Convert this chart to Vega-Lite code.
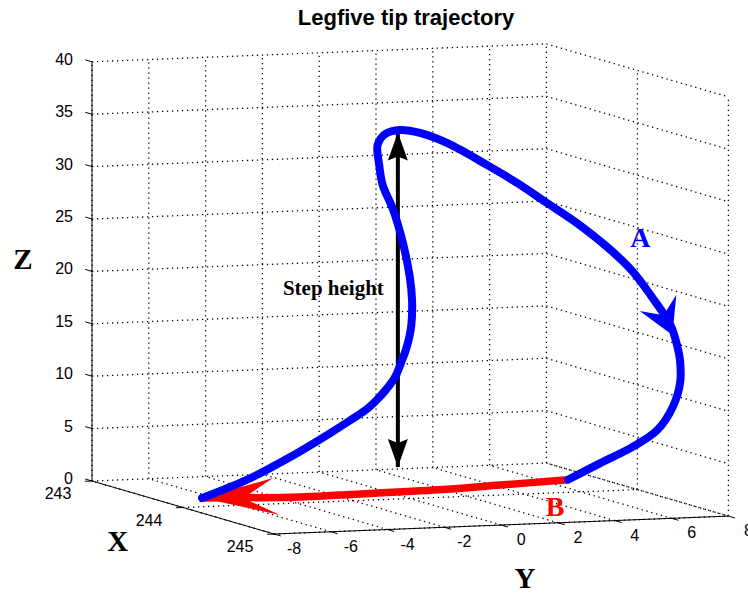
{
  "$schema": "https://vega.github.io/schema/vega-lite/v6.json",
  "width": 748,
  "height": 554,
  "autosize": {"type": "none"},
  "padding": {"left": 0, "right": 0, "top": 40, "bottom": 0},
  "background": "white",
  "title": {
    "text": "Legfive tip trajectory",
    "font": "Liberation Sans",
    "fontSize": 22,
    "fontWeight": "bold",
    "color": "black",
    "anchor": "middle",
    "dx": 32,
    "offset": 10
  },
  "config": {"view": {"stroke": null}},
  "data": {
    "values": [
      {"kind": "grid", "X": 243, "Y": -8, "Z": 0, "X2": 243, "Y2": 8, "Z2": 0},
      {"kind": "grid", "X": 243, "Y": 8, "Z": 0, "X2": 245, "Y2": 8, "Z2": 0},
      {"kind": "grid", "X": 243, "Y": -8, "Z": 5, "X2": 243, "Y2": 8, "Z2": 5},
      {"kind": "grid", "X": 243, "Y": 8, "Z": 5, "X2": 245, "Y2": 8, "Z2": 5},
      {"kind": "grid", "X": 243, "Y": -8, "Z": 10, "X2": 243, "Y2": 8, "Z2": 10},
      {"kind": "grid", "X": 243, "Y": 8, "Z": 10, "X2": 245, "Y2": 8, "Z2": 10},
      {"kind": "grid", "X": 243, "Y": -8, "Z": 15, "X2": 243, "Y2": 8, "Z2": 15},
      {"kind": "grid", "X": 243, "Y": 8, "Z": 15, "X2": 245, "Y2": 8, "Z2": 15},
      {"kind": "grid", "X": 243, "Y": -8, "Z": 20, "X2": 243, "Y2": 8, "Z2": 20},
      {"kind": "grid", "X": 243, "Y": 8, "Z": 20, "X2": 245, "Y2": 8, "Z2": 20},
      {"kind": "grid", "X": 243, "Y": -8, "Z": 25, "X2": 243, "Y2": 8, "Z2": 25},
      {"kind": "grid", "X": 243, "Y": 8, "Z": 25, "X2": 245, "Y2": 8, "Z2": 25},
      {"kind": "grid", "X": 243, "Y": -8, "Z": 30, "X2": 243, "Y2": 8, "Z2": 30},
      {"kind": "grid", "X": 243, "Y": 8, "Z": 30, "X2": 245, "Y2": 8, "Z2": 30},
      {"kind": "grid", "X": 243, "Y": -8, "Z": 35, "X2": 243, "Y2": 8, "Z2": 35},
      {"kind": "grid", "X": 243, "Y": 8, "Z": 35, "X2": 245, "Y2": 8, "Z2": 35},
      {"kind": "grid", "X": 243, "Y": -8, "Z": 40, "X2": 243, "Y2": 8, "Z2": 40},
      {"kind": "grid", "X": 243, "Y": 8, "Z": 40, "X2": 245, "Y2": 8, "Z2": 40},
      {"kind": "grid", "X": 245, "Y": -8, "Z": 0, "X2": 243, "Y2": -8, "Z2": 0},
      {"kind": "grid", "X": 243, "Y": -8, "Z": 0, "X2": 243, "Y2": -8, "Z2": 40},
      {"kind": "grid", "X": 245, "Y": -6, "Z": 0, "X2": 243, "Y2": -6, "Z2": 0},
      {"kind": "grid", "X": 243, "Y": -6, "Z": 0, "X2": 243, "Y2": -6, "Z2": 40},
      {"kind": "grid", "X": 245, "Y": -4, "Z": 0, "X2": 243, "Y2": -4, "Z2": 0},
      {"kind": "grid", "X": 243, "Y": -4, "Z": 0, "X2": 243, "Y2": -4, "Z2": 40},
      {"kind": "grid", "X": 245, "Y": -2, "Z": 0, "X2": 243, "Y2": -2, "Z2": 0},
      {"kind": "grid", "X": 243, "Y": -2, "Z": 0, "X2": 243, "Y2": -2, "Z2": 40},
      {"kind": "grid", "X": 245, "Y": 0, "Z": 0, "X2": 243, "Y2": 0, "Z2": 0},
      {"kind": "grid", "X": 243, "Y": 0, "Z": 0, "X2": 243, "Y2": 0, "Z2": 40},
      {"kind": "grid", "X": 245, "Y": 2, "Z": 0, "X2": 243, "Y2": 2, "Z2": 0},
      {"kind": "grid", "X": 243, "Y": 2, "Z": 0, "X2": 243, "Y2": 2, "Z2": 40},
      {"kind": "grid", "X": 245, "Y": 4, "Z": 0, "X2": 243, "Y2": 4, "Z2": 0},
      {"kind": "grid", "X": 243, "Y": 4, "Z": 0, "X2": 243, "Y2": 4, "Z2": 40},
      {"kind": "grid", "X": 245, "Y": 6, "Z": 0, "X2": 243, "Y2": 6, "Z2": 0},
      {"kind": "grid", "X": 243, "Y": 6, "Z": 0, "X2": 243, "Y2": 6, "Z2": 40},
      {"kind": "grid", "X": 245, "Y": 8, "Z": 0, "X2": 243, "Y2": 8, "Z2": 0},
      {"kind": "grid", "X": 243, "Y": 8, "Z": 0, "X2": 243, "Y2": 8, "Z2": 40},
      {"kind": "grid", "X": 244, "Y": -8, "Z": 0, "X2": 244, "Y2": 8, "Z2": 0},
      {"kind": "grid", "X": 244, "Y": 8, "Z": 0, "X2": 244, "Y2": 8, "Z2": 40},
      {"kind": "grid", "X": 245, "Y": -8, "Z": 0, "X2": 245, "Y2": 8, "Z2": 0},
      {"kind": "grid", "X": 245, "Y": 8, "Z": 0, "X2": 245, "Y2": 8, "Z2": 40},

      {"kind": "axis", "X": 243, "Y": -8, "Z": 0, "X2": 243, "Y2": -8, "Z2": 40},
      {"kind": "axis", "X": 243, "Y": -8, "Z": 0, "X2": 245, "Y2": -8, "Z2": 0},
      {"kind": "axis", "X": 245, "Y": -8, "Z": 0, "X2": 245, "Y2": 8, "Z2": 0},

      {"kind": "ztick", "X": 243, "Y": -8, "Z": 0, "label": "0"},
      {"kind": "ztick", "X": 243, "Y": -8, "Z": 5, "label": "5"},
      {"kind": "ztick", "X": 243, "Y": -8, "Z": 10, "label": "10"},
      {"kind": "ztick", "X": 243, "Y": -8, "Z": 15, "label": "15"},
      {"kind": "ztick", "X": 243, "Y": -8, "Z": 20, "label": "20"},
      {"kind": "ztick", "X": 243, "Y": -8, "Z": 25, "label": "25"},
      {"kind": "ztick", "X": 243, "Y": -8, "Z": 30, "label": "30"},
      {"kind": "ztick", "X": 243, "Y": -8, "Z": 35, "label": "35"},
      {"kind": "ztick", "X": 243, "Y": -8, "Z": 40, "label": "40"},
      {"kind": "xtick", "X": 243, "Y": -8, "Z": 0, "label": "243"},
      {"kind": "xtick", "X": 244, "Y": -8, "Z": 0, "label": "244"},
      {"kind": "xtick", "X": 245, "Y": -8, "Z": 0, "label": "245"},
      {"kind": "ytick", "X": 245, "Y": -8, "Z": 0, "label": "-8"},
      {"kind": "ytick", "X": 245, "Y": -6, "Z": 0, "label": "-6"},
      {"kind": "ytick", "X": 245, "Y": -4, "Z": 0, "label": "-4"},
      {"kind": "ytick", "X": 245, "Y": -2, "Z": 0, "label": "-2"},
      {"kind": "ytick", "X": 245, "Y": 0, "Z": 0, "label": "0"},
      {"kind": "ytick", "X": 245, "Y": 2, "Z": 0, "label": "2"},
      {"kind": "ytick", "X": 245, "Y": 4, "Z": 0, "label": "4"},
      {"kind": "ytick", "X": 245, "Y": 6, "Z": 0, "label": "6"},
      {"kind": "ytick", "X": 245, "Y": 8, "Z": 0, "label": "8"},

      {"kind": "axisTitle", "X": 244, "Y": -10.3, "Z": -3.0, "label": "X"},
      {"kind": "axisTitle", "X": 245.26, "Y": 0, "Z": -4.5, "label": "Y"},
      {"kind": "axisTitle", "X": 242.24, "Y": -8, "Z": 19.2, "label": "Z"},

      {"kind": "height", "X": 243, "Y": 2.77, "Z": 0.18},
      {"kind": "height", "X": 243, "Y": 2.77, "Z": 32.1},
      {"kind": "note", "X": 243, "Y": 0.5, "Z": 17.4, "label": "Step height"},

      {"kind": "stance", "step": 1, "X": 243.58, "Y": 6.9, "Z": 0},
      {"kind": "stance", "step": 2, "X": 243.67, "Y": 4.23, "Z": 0},
      {"kind": "stance", "step": 3, "X": 243.75, "Y": 1.62, "Z": 0},
      {"kind": "stance", "step": 4, "X": 243.79, "Y": -1.8, "Z": 0},
      {"kind": "stance", "step": 5, "X": 243.8, "Y": -3.25, "Z": 0},
      {"kind": "stance", "step": 6, "X": 243.71, "Y": -6.4, "Z": 0},

      {"kind": "swing", "step": 1, "X": 243.71, "Y": -6.4, "Z": 0.0},
      {"kind": "swing", "step": 2, "X": 243.95, "Y": -5.6, "Z": 2.25},
      {"kind": "swing", "step": 3, "X": 244.18, "Y": -4.8, "Z": 4.93},
      {"kind": "swing", "step": 4, "X": 244.37, "Y": -4.0, "Z": 7.61},
      {"kind": "swing", "step": 5, "X": 244.44, "Y": -3.5, "Z": 8.99},
      {"kind": "swing", "step": 6, "X": 244.48, "Y": -3.1, "Z": 10.0},
      {"kind": "swing", "step": 7, "X": 244.49, "Y": -2.75, "Z": 10.94},
      {"kind": "swing", "step": 8, "X": 244.49, "Y": -2.4, "Z": 11.96},
      {"kind": "swing", "step": 9, "X": 244.49, "Y": -2.1, "Z": 13.06},
      {"kind": "swing", "step": 10, "X": 244.46, "Y": -1.8, "Z": 14.29},
      {"kind": "swing", "step": 11, "X": 244.42, "Y": -1.5, "Z": 15.4},
      {"kind": "swing", "step": 12, "X": 244.38, "Y": -1.25, "Z": 16.5},
      {"kind": "swing", "step": 13, "X": 244.34, "Y": -1.05, "Z": 17.52},
      {"kind": "swing", "step": 14, "X": 244.27, "Y": -0.8, "Z": 19.71},
      {"kind": "swing", "step": 15, "X": 244.12, "Y": -0.4, "Z": 21.49},
      {"kind": "swing", "step": 16, "X": 243.92, "Y": 0.0, "Z": 24.18},
      {"kind": "swing", "step": 17, "X": 243.72, "Y": 0.3, "Z": 26.79},
      {"kind": "swing", "step": 18, "X": 243.51, "Y": 0.6, "Z": 28.62},
      {"kind": "swing", "step": 19, "X": 243.41, "Y": 0.8, "Z": 30.24},
      {"kind": "swing", "step": 20, "X": 243.33, "Y": 1.0, "Z": 31.94},
      {"kind": "swing", "step": 21, "X": 243.32, "Y": 1.3, "Z": 32.92},
      {"kind": "swing", "step": 22, "X": 243.36, "Y": 1.7, "Z": 33.36},
      {"kind": "swing", "step": 23, "X": 243.42, "Y": 2.2, "Z": 33.18},
      {"kind": "swing", "step": 24, "X": 243.53, "Y": 2.8, "Z": 32.44},
      {"kind": "swing", "step": 25, "X": 243.75, "Y": 3.5, "Z": 30.83},
      {"kind": "swing", "step": 26, "X": 243.93, "Y": 4.0, "Z": 29.49},
      {"kind": "swing", "step": 27, "X": 244.1, "Y": 4.5, "Z": 27.97},
      {"kind": "swing", "step": 28, "X": 244.27, "Y": 5.0, "Z": 26.45},
      {"kind": "swing", "step": 29, "X": 244.45, "Y": 5.5, "Z": 24.54},
      {"kind": "swing", "step": 30, "X": 244.6, "Y": 5.9, "Z": 22.59},
      {"kind": "swing", "step": 31, "X": 244.69, "Y": 6.3, "Z": 20.3},
      {"kind": "swing", "step": 32, "X": 244.8, "Y": 6.6, "Z": 17.87},
      {"kind": "swing", "step": 33, "X": 244.81, "Y": 6.8, "Z": 15.97},
      {"kind": "swing", "step": 34, "X": 244.78, "Y": 7.0, "Z": 14.44},
      {"kind": "swing", "step": 35, "X": 244.75, "Y": 7.1, "Z": 12.16},
      {"kind": "swing", "step": 36, "X": 244.67, "Y": 7.1, "Z": 9.68},
      {"kind": "swing", "step": 37, "X": 244.5, "Y": 7.1, "Z": 7.04},
      {"kind": "swing", "step": 38, "X": 244.26, "Y": 7.0, "Z": 4.84},
      {"kind": "swing", "step": 39, "X": 243.92, "Y": 6.95, "Z": 2.44},
      {"kind": "swing", "step": 40, "X": 243.58, "Y": 6.9, "Z": 0.0},

      {"kind": "tipA", "X": 244.79, "Y": 6.7, "Z": 16.88},
      {"kind": "letter", "X": 244.5, "Y": 6.5, "Z": 25.3, "label": "A"},
      {"kind": "letter", "X": 244.5, "Y": 3.5, "Z": 0, "label": "B"}
    ]
  },
  "transform": [
    {"calculate": "91 * (datum.X - 243) + 28.4 * (datum.Y + 8)", "as": "u"},
    {"calculate": "26.5 * (datum.X - 243) - 1.12 * (datum.Y + 8) - 10.48 * datum.Z", "as": "v"},
    {"calculate": "91 * (datum.X2 - 243) + 28.4 * (datum.Y2 + 8)", "as": "u2"},
    {"calculate": "26.5 * (datum.X2 - 243) - 1.12 * (datum.Y2 + 8) - 10.48 * datum.Z2", "as": "v2"}
  ],
  "encoding": {
    "x": {"field": "u", "type": "quantitative", "scale": {"domain": [-92, 656], "nice": false, "zero": false}, "axis": null},
    "y": {"field": "v", "type": "quantitative", "scale": {"domain": [-441, 113], "nice": false, "zero": false, "reverse": true}, "axis": null}
  },
  "layer": [
    {
      "transform": [{"filter": "datum.kind === 'grid'"}],
      "mark": {"type": "rule", "color": "#000000", "strokeWidth": 1.3, "strokeDash": [1.3, 3.7]},
      "encoding": {"x2": {"field": "u2"}, "y2": {"field": "v2"}}
    },
    {
      "transform": [{"filter": "datum.kind === 'axis'"}],
      "mark": {"type": "rule", "color": "black", "strokeWidth": 1},
      "encoding": {"x2": {"field": "u2"}, "y2": {"field": "v2"}}
    },
    {
      "transform": [{"filter": "datum.kind === 'ztick'"}],
      "mark": {"type": "point", "shape": "M0,0L-0.96,-0.28", "size": 196, "filled": false, "color": "black", "strokeWidth": 1, "opacity": 1}
    },
    {
      "transform": [{"filter": "datum.kind === 'xtick'"}],
      "mark": {"type": "point", "shape": "M0,0L-1,0.04", "size": 196, "filled": false, "color": "black", "strokeWidth": 1, "opacity": 1}
    },
    {
      "transform": [{"filter": "datum.kind === 'ytick'"}],
      "mark": {"type": "point", "shape": "M0,0L0.96,0.28", "size": 196, "filled": false, "color": "black", "strokeWidth": 1, "opacity": 1}
    },
    {
      "transform": [{"filter": "datum.kind === 'ztick'"}],
      "mark": {"type": "text", "font": "Liberation Sans", "fontSize": 16, "align": "right", "baseline": "middle", "dx": -19, "dy": -2, "color": "black"},
      "encoding": {"text": {"field": "label"}}
    },
    {
      "transform": [{"filter": "datum.kind === 'xtick'"}],
      "mark": {"type": "text", "font": "Liberation Sans", "fontSize": 16, "align": "center", "baseline": "middle", "dx": -34, "dy": 13, "color": "black"},
      "encoding": {"text": {"field": "label"}}
    },
    {
      "transform": [{"filter": "datum.kind === 'ytick'"}],
      "mark": {"type": "text", "font": "Liberation Sans", "fontSize": 16, "align": "center", "baseline": "middle", "dx": 20, "dy": 15, "color": "black"},
      "encoding": {"text": {"field": "label"}}
    },
    {
      "transform": [{"filter": "datum.kind === 'axisTitle'"}],
      "mark": {"type": "text", "font": "Liberation Serif", "fontSize": 29, "fontWeight": "bold", "align": "center", "baseline": "middle", "color": "black"},
      "encoding": {"text": {"field": "label"}}
    },
    {
      "transform": [{"filter": "datum.kind === 'height'"}],
      "mark": {"type": "line", "color": "black", "strokeWidth": 4},
      "encoding": {"order": {"field": "Z", "type": "quantitative"}}
    },
    {
      "transform": [{"filter": "datum.kind === 'height'"}],
      "mark": {"type": "point", "shape": "M0,0L-1.4,-0.5L-1.2,0L-1.4,0.5Z", "size": 1600, "filled": true, "color": "black", "opacity": 1, "strokeWidth": 0},
      "encoding": {"angle": {"condition": {"test": "datum.Z > 10", "value": 270}, "value": 90}}
    },
    {
      "transform": [{"filter": "datum.kind === 'note'"}],
      "mark": {"type": "text", "font": "Liberation Serif", "fontSize": 21, "fontWeight": "bold", "align": "center", "baseline": "middle", "color": "black"},
      "encoding": {"text": {"field": "label"}}
    },
    {
      "transform": [{"filter": "datum.kind === 'stance'"}],
      "mark": {"type": "line", "color": "#ff0000", "strokeWidth": 7.5, "interpolate": "catmull-rom"},
      "encoding": {"order": {"field": "step", "type": "quantitative"}}
    },
    {
      "transform": [{"filter": "datum.kind === 'stance' && datum.step === 6"}],
      "mark": {"type": "point", "shape": "M0,0L-3.55,1L-2.05,0L-3.9,-0.85Z", "size": 1600, "filled": true, "color": "#ff0000", "opacity": 1, "strokeWidth": 0, "angle": 180}
    },
    {
      "transform": [{"filter": "datum.kind === 'swing'"}],
      "mark": {"type": "line", "color": "#0000ff", "strokeWidth": 8, "interpolate": "catmull-rom", "strokeCap": "round", "strokeJoin": "round"},
      "encoding": {"order": {"field": "step", "type": "quantitative"}}
    },
    {
      "transform": [{"filter": "datum.kind === 'tipA'"}],
      "mark": {"type": "point", "shape": "M0,0L-1.76,-1L-1.08,0L-1.76,1Z", "size": 1600, "filled": true, "color": "#0000ff", "opacity": 1, "strokeWidth": 0, "angle": 66}
    },
    {
      "transform": [{"filter": "datum.kind === 'letter'"}],
      "mark": {"type": "text", "font": "Liberation Serif", "fontSize": 28, "fontWeight": "bold", "align": "center", "baseline": "middle"},
      "encoding": {
        "text": {"field": "label"},
        "color": {"field": "label", "type": "nominal", "scale": {"domain": ["A", "B"], "range": ["#0000ff", "#ff0000"]}, "legend": null}
      }
    }
  ]
}
